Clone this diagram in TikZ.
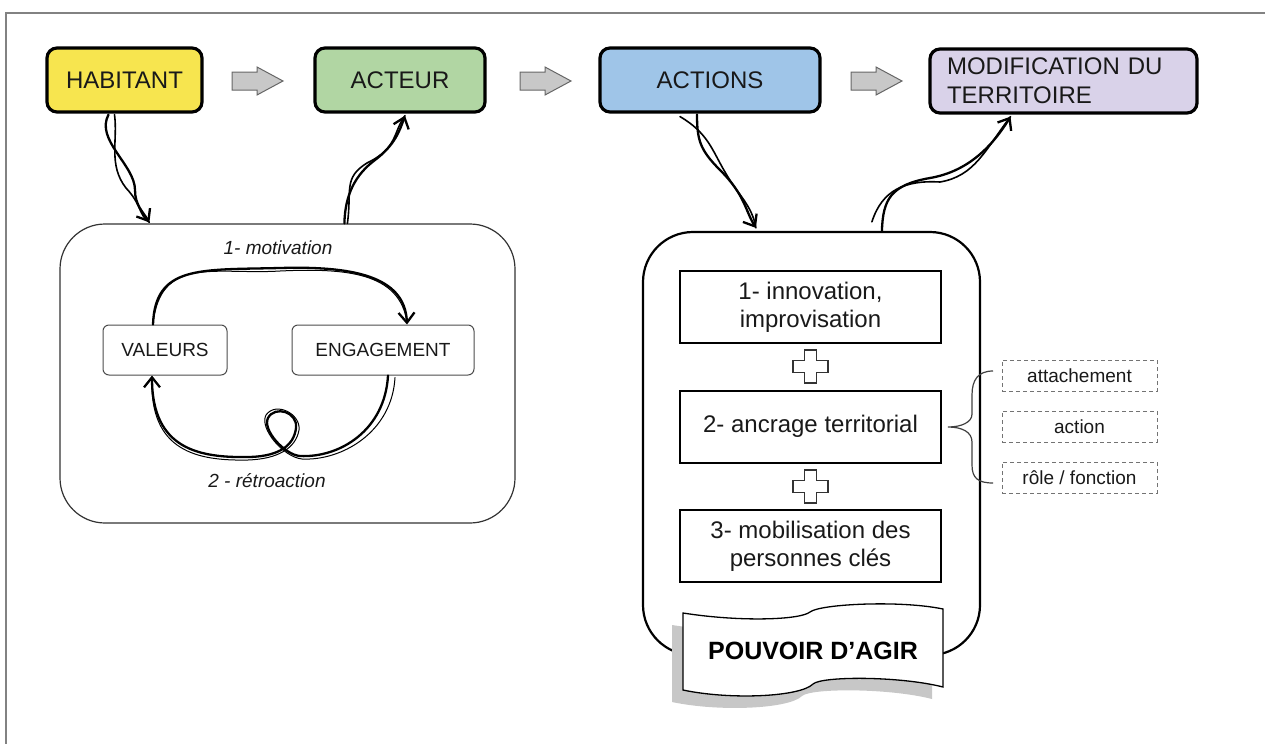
\documentclass[tikz,border=0pt]{standalone}
\usepackage{fontspec}
\setmainfont{Liberation Sans}
\usetikzlibrary{arrows.meta,calc}
\definecolor{habyellow}{RGB}{247,229,79}
\definecolor{actgreen}{RGB}{177,214,163}
\definecolor{actblue}{RGB}{159,197,232}
\definecolor{modlav}{RGB}{217,210,233}
\definecolor{framegray}{RGB}{130,130,130}
\definecolor{arrowgray}{RGB}{200,200,200}
\definecolor{txt}{RGB}{25,25,25}
\begin{document}
\begin{tikzpicture}[x=1pt,y=-1pt,
  topbox/.style={draw=black, line width=3.2pt, rounded corners=10pt, minimum height=64pt, inner sep=0pt, font=\fontsize{24}{29}\selectfont, text=txt},
  garrow/.style={draw=black!60, fill=arrowgray, line width=1pt},
  inbox/.style={draw=black, line width=2pt, minimum width=261pt, minimum height=72pt, inner sep=0pt, align=center, font=\fontsize{24}{28}\selectfont, text=txt},
  vbox/.style={draw=black!70, line width=1pt, rounded corners=6pt, minimum height=50pt, inner sep=0pt, font=\fontsize{19}{22}\selectfont, text=txt},
  lab/.style={font=\fontsize{19}{22}\selectfont\itshape, text=txt, inner sep=0pt},
  dbox/.style={draw=black!55, dash pattern=on 4pt off 3pt, line width=1pt, minimum width=155pt, minimum height=31pt, inner sep=0pt, font=\fontsize{19}{22}\selectfont, text=txt},
  strandA/.style={line width=2.3pt, line cap=round},
  strandB/.style={line width=1.6pt, line cap=round},
  loopB/.style={line width=1pt, line cap=round},
  barb/.style={-{Straight Barb[length=10pt,width=16pt]}},
  plusshape/.style={draw=black!80, fill=white, line width=1.3pt}
]
\useasboundingbox (0,0) rectangle (1265,744);
% frame
\draw[framegray, line width=2pt] (1265,13) -- (6,13) -- (6,744);

% top boxes
\node[topbox, fill=habyellow, minimum width=155pt] (hab) at (124.5,80) {HABITANT};
\node[topbox, fill=actgreen, minimum width=170pt] (act) at (400,80) {ACTEUR};
\node[topbox, fill=actblue, minimum width=220pt] (acts) at (710,80) {ACTIONS};
\node[topbox, fill=modlav, minimum width=267pt, text width=233pt, align=left] (mod) at (1063.5,81) {MODIFICATION DU\\TERRITOIRE};

% gray block arrows
\foreach \x in {232,520,851}{
  \draw[garrow] (\x,72) -- (\x+25,72) -- (\x+25,67) -- (\x+51,81) -- (\x+25,95) -- (\x+25,90) -- (\x,90) -- cycle;
}

% left loop box
\node[draw=black!80, line width=1.2pt, rounded corners=45pt, minimum width=455pt, minimum height=299pt] (loop) at (287.5,373.5) {};
\node[vbox, minimum width=124pt] (val) at (165,350) {VALEURS};
\node[vbox, minimum width=182pt] (eng) at (383,350) {ENGAGEMENT};
\node[lab] (mot) at (278,248) {1- motivation};
\node[lab] (retro) at (267,481) {2 - rétroaction};

% motivation loop
\draw[strandA, barb] ($(val.north)+(-12,0)$) .. controls (155,265) and (200,270) .. (280,268) .. controls (350,266) and (405,275) .. ($(eng.north)+(24,0)$);
\draw[loopB] ($(val.north)+(-12,0)$) .. controls (160,255) and (215,275) .. (280,271) .. controls (345,268) and (400,272) .. ($(eng.north)+(24,-2)$);
% retroaction loop
\draw[strandA, barb] ($(eng.south)+(5,0)$) .. controls (385,430) and (340,458) .. (300,456) .. controls (285,455) and (262,430) .. (268,418) .. controls (275,405) and (298,412) .. (296,428) .. controls (294,445) and (280,456) .. (250,457) .. controls (200,458) and (152,450) .. ($(val.south)+(-13,0)$);
\draw[loopB] ($(eng.south)+(12,2)$) .. controls (392,432) and (342,461) .. (302,459) .. controls (283,457) and (259,428) .. (266,415) .. controls (276,401) and (301,414) .. (299,430) .. controls (296,448) and (278,459) .. (248,460) .. controls (198,461) and (149,452) .. ($(val.south)+(-13,2)$);

% connectors habitant -> loop, loop -> acteur
\draw[strandA, barb] ($(hab.south)+(-16,1)$) .. controls (95,140) and (135,165) .. (135,190) .. controls (135,205) and (143,212) .. ($(loop.north west)+(90,-1)$);
\draw[strandB] ($(hab.south)+(-10,1)$) .. controls (118,140) and (108,165) .. (126,188) .. controls (142,205) and (138,214) .. ($(loop.north west)+(90,-1)$);
\draw[strandA, barb] ($(loop.north west)+(285,0)$) .. controls (345,195) and (355,175) .. (375,160) .. controls (395,145) and (400,130) .. ($(act.south)+(5,2)$);
\draw[strandB] ($(loop.north west)+(288,0)$) .. controls (352,190) and (343,178) .. (367,163) .. controls (398,148) and (393,132) .. ($(act.south)+(5,2)$);

% right big box
\node[draw=black, line width=2.2pt, rounded corners=50pt, minimum width=337pt, minimum height=423pt] (big) at (811.5,443.5) {};
\node[inbox] (b1) at (810.5,307) {1- innovation,\\improvisation};
\node[inbox] (b2) at (810.5,426.5) {2- ancrage territorial};
\node[inbox] (b3) at (810.5,546) {3- mobilisation des\\personnes clés};

% plus signs
\foreach \y in {366.5,486.5}{
  \draw[plusshape] (804.5,\y-16.5) -- (816.5,\y-16.5) -- (816.5,\y-6) -- (828,\y-6) -- (828,\y+6) -- (816.5,\y+6) -- (816.5,\y+16.5) -- (804.5,\y+16.5) -- (804.5,\y+6) -- (793,\y+6) -- (793,\y-6) -- (804.5,\y-6) -- cycle;
}

% brace and dashed boxes
\draw[black!75, line width=1.2pt] (993,371) .. controls (978,371) and (972,380) .. (972,395) -- (972,414) .. controls (972,422) and (962,427) .. (948,427) .. controls (962,427) and (972,432) .. (972,442) -- (972,465) .. controls (972,478) and (978,483) .. (993,483);
\node[dbox] (d1) at (1079.5,375.5) {attachement};
\node[dbox] (d2) at (1079.5,426.5) {action};
\node[dbox] (d3) at (1079.5,477.5) {rôle / fonction};

% banner with shadow
\fill[black!22, shift={(-11,12)}] (683,613) .. controls (740,622) and (800,620) .. (810,612) .. controls (820,604) and (900,600) .. (943,609) -- (943,687) .. controls (900,676) and (822,676) .. (813,684) .. controls (800,697) and (730,700) .. (683,690) -- cycle;
\draw[black, line width=1.3pt, fill=white] (683,613) .. controls (740,622) and (800,620) .. (810,612) .. controls (820,604) and (900,600) .. (943,609) -- (943,687) .. controls (900,676) and (822,676) .. (813,684) .. controls (800,697) and (730,700) .. (683,690) -- cycle;
\node[font=\fontsize{25}{30}\selectfont\bfseries, text=black, inner sep=0pt] (pouvoir) at (813,651) {POUVOIR D’AGIR};

% actions -> big box, big box -> modification
\draw[strandA, barb] ($(acts.south)+(-13,1)$) .. controls (697,140) and (700,150) .. (720,170) .. controls (745,195) and (745,210) .. ($(big.north west)+(114,-3)$);
\draw[strandB] ($(acts.south)+(-30,3)$) .. controls (708,133) and (712,150) .. (725,172) .. controls (738,195) and (752,205) .. ($(big.north west)+(114,-3)$);
\draw[strandA, barb] ($(big.north west)+(240,0)$) .. controls (883,200) and (890,185) .. (930,178) .. controls (965,172) and (990,150) .. ($(mod.south)+(-53,2)$);
\draw[strandB] ($(big.north west)+(230,-9)$) .. controls (882,190) and (905,180) .. (940,182) .. controls (975,176) and (985,150) .. ($(mod.south)+(-53,2)$);
\end{tikzpicture}
\end{document}
